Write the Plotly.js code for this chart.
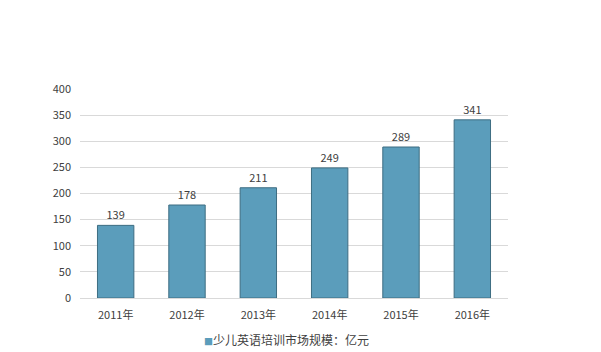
<!DOCTYPE html>
<html>
<head>
<meta charset="utf-8">
<script src="https://cdn.plot.ly/plotly-3.0.1.min.js"></script>
<style>html,body{margin:0;padding:0;background:#fff;}#chart{width:601px;height:352px;}</style>
</head>
<body>
<div id="chart"></div>
<script>
const years = ["2011年", "2012年", "2013年", "2014年", "2015年", "2016年"];
const marketSize = [139, 178, 211, 249, 289, 341];
const seriesName = "少儿英语培训市场规模：亿元";
const yTicks = [0, 50, 100, 150, 200, 250, 300, 350, 400];
const barColor = "#5b9dbb";

const font = {family: "Noto Sans CJK SC, Microsoft YaHei, sans-serif", size: 11, color: "#404040"};
const legendFont = {family: font.family, size: 12, color: "#404040"};

Plotly.newPlot("chart", [{
  type: "bar",
  x: years,
  y: marketSize,
  name: seriesName,
  text: marketSize.map(String),
  textposition: "outside",
  cliponaxis: false,
  textfont: font,
  width: 0.51,
  marker: {color: barColor, line: {color: "#3d6d82", width: 1}},
  showlegend: false
}], {
  width: 601, height: 352,
  margin: {l: 80, r: 93, t: 89, b: 54},
  paper_bgcolor: "#fff", plot_bgcolor: "#fff",
  font: font,
  showlegend: false,
  xaxis: {type: "category", showgrid: false, showline: false, ticks: "", tickfont: font,
          ticklabelstandoff: 9, automargin: false},
  yaxis: {range: [0, 400], tickvals: yTicks, showgrid: true, gridcolor: "#d9d9d9", gridwidth: 1,
          zeroline: true, zerolinecolor: "#d9d9d9", zerolinewidth: 1, ticks: "", tickfont: font,
          ticklabelstandoff: 8, automargin: false},
  annotations: [{
    xref: "paper", yref: "paper", x: 0.482, y: -0.2, xanchor: "center", yanchor: "middle",
    showarrow: false, font: legendFont,
    text: "<span style='color:" + barColor + ";font-size:9px'>■</span>" + seriesName
  }]
}, {displayModeBar: false, staticPlot: true});
</script>
</body>
</html>
